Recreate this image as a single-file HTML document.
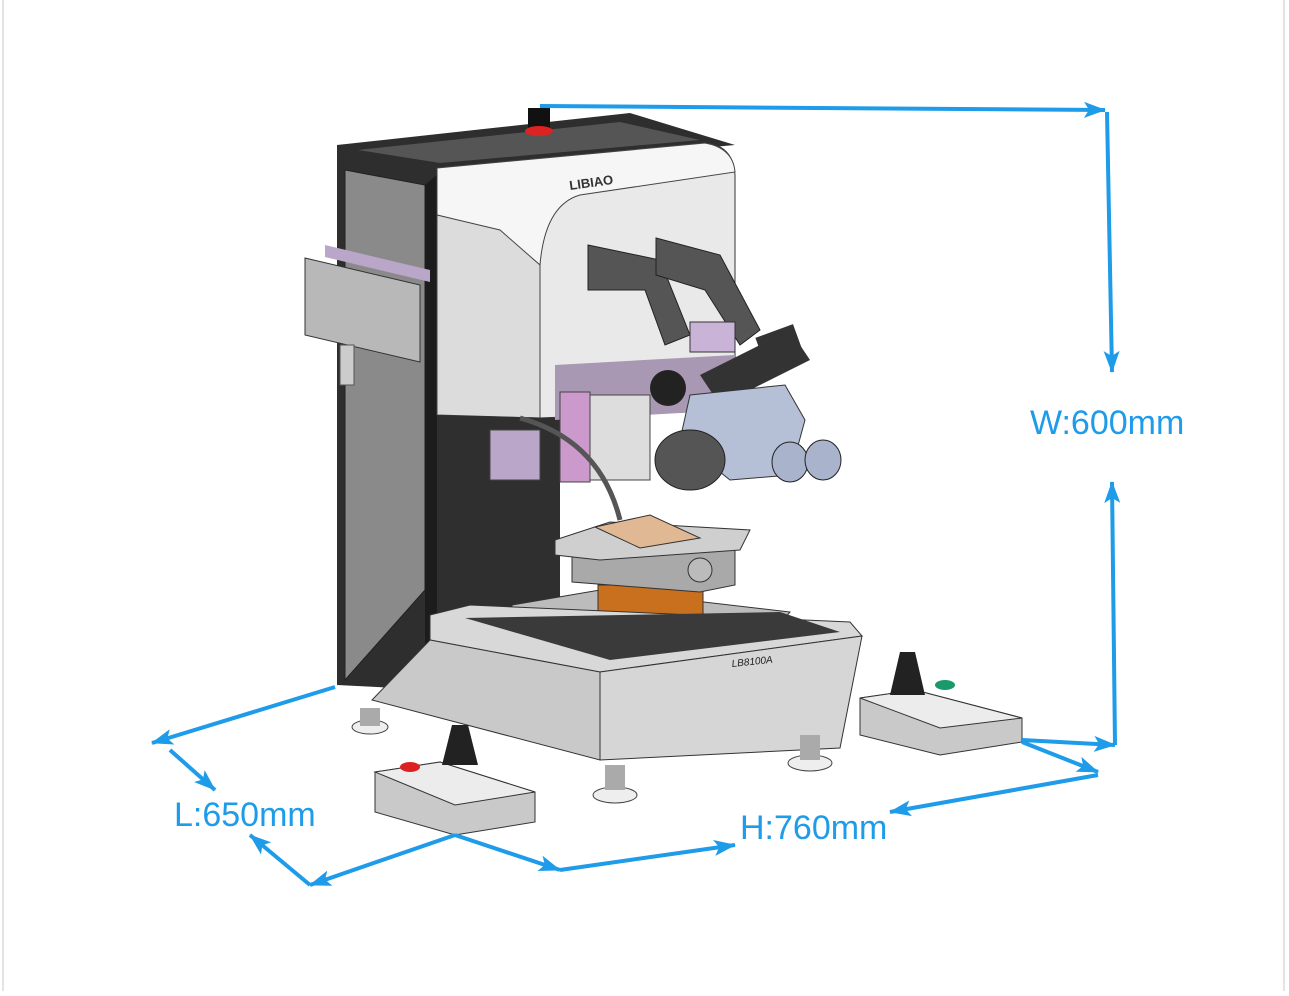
<!DOCTYPE html>
<html><head><meta charset="utf-8"><style>
body{margin:0;background:#fff;width:1289px;height:991px;overflow:hidden;font-family:"Liberation Sans",sans-serif}
</style></head><body>
<svg width="1289" height="991" viewBox="0 0 1289 991" xmlns="http://www.w3.org/2000/svg">
<defs>
<marker id="b" markerWidth="22" markerHeight="16" refX="21" refY="8" orient="auto" markerUnits="userSpaceOnUse"><path d="M0,0 L22,8 L0,16 L5,8 z" fill="#1e9be9"/></marker>
</defs>
<rect x="0" y="0" width="1289" height="991" fill="#fff"/>
<line x1="3" y1="0" x2="3" y2="991" stroke="#e4e4e4" stroke-width="2"/>
<line x1="1284" y1="0" x2="1284" y2="991" stroke="#e4e4e4" stroke-width="2"/>

<polygon points="337,145 630,113 735,145 437,172 437,690 337,685" fill="#2e2e2e"/>
<polygon points="358,150 620,122 700,140 440,163" fill="#555"/>
<polygon points="345,170 425,185 425,590 345,680" fill="#8a8a8a" stroke="#222"/>
<polygon points="425,185 437,175 437,690 425,690" fill="#1c1c1c"/>
<path d="M437,168 L705,143 Q733,145 735,175 L735,410 L540,418 L540,265 Q470,230 437,215 Z" fill="#e9e9e9" stroke="#333"/>
<path d="M437,168 L705,143 Q733,148 735,172 L580,195 Q545,205 540,265 Q500,230 437,215 Z" fill="#f6f6f6" stroke="#444"/>
<polygon points="437,215 500,230 540,265 540,418 437,415" fill="#dcdcdc" stroke="#444"/>
<polygon points="437,415 560,418 560,620 437,690" fill="#2f2f2f"/>
<text x="570" y="190" font-size="13" fill="#333" font-weight="bold" transform="rotate(-8 570 190)">LIBIAO</text>
<polygon points="305,258 420,285 420,362 305,335" fill="#b8b8b8" stroke="#333"/>
<polygon points="325,245 430,270 430,282 325,257" fill="#b9a6c8"/>
<rect x="340" y="345" width="14" height="40" fill="#ccc" stroke="#555"/>
<polygon points="555,365 735,355 735,410 555,420" fill="#a898b4"/>
<rect x="560" y="392" width="30" height="90" fill="#cc99cc" stroke="#444"/>
<rect x="590" y="395" width="60" height="85" fill="#ddd" stroke="#444"/>
<rect x="490" y="430" width="50" height="50" fill="#b9a6c8" stroke="#444"/>
<polygon points="588,245 660,260 690,335 665,345 645,290 588,290" fill="#555" stroke="#222"/>
<polygon points="656,238 720,255 760,330 740,345 705,290 656,275" fill="#555" stroke="#222"/>
<rect x="690" y="322" width="45" height="30" fill="#c9b3d6" stroke="#333"/>
<polygon points="700,375 790,330 810,360 720,405" fill="#333"/>
<circle cx="668" cy="388" r="18" fill="#222"/>
<polygon points="690,395 785,385 805,420 790,475 730,480 680,440" fill="#b5bfd6" stroke="#333"/>
<ellipse cx="690" cy="460" rx="35" ry="30" fill="#555" stroke="#222"/>
<ellipse cx="790" cy="462" rx="18" ry="20" fill="#a9b4cc" stroke="#222"/>
<ellipse cx="823" cy="460" rx="18" ry="20" fill="#a9b4cc" stroke="#222"/>
<rect x="760" y="330" width="40" height="35" fill="#333" transform="rotate(-20 780 347)"/>
<path d="M520,418 Q600,440 620,520" stroke="#555" stroke-width="5" fill="none"/>
<polygon points="512,605 600,590 790,612 760,648 640,648 512,620" fill="#bcbcbc" stroke="#333"/>
<rect x="598" y="585" width="105" height="35" fill="#c8701e" stroke="#333"/>
<polygon points="572,545 735,545 735,585 700,592 572,582" fill="#a9a9a9" stroke="#333"/>
<polygon points="555,540 610,522 750,530 740,550 600,560 555,555" fill="#cfcfcf" stroke="#333"/>
<polygon points="595,527 650,515 700,538 640,548" fill="#e0b894" stroke="#333"/>
<circle cx="700" cy="570" r="12" fill="#bbb" stroke="#333"/>
<polygon points="430,615 470,605 850,622 862,636 600,672 430,640" fill="#d8d8d8" stroke="#333"/>
<polygon points="465,618 780,612 840,632 610,660" fill="#3a3a3a"/>
<polygon points="430,640 600,672 600,760 372,700" fill="#c9c9c9" stroke="#333"/>
<polygon points="600,672 862,636 840,748 600,760" fill="#d6d6d6" stroke="#333"/>
<text x="732" y="667" font-size="10" font-style="italic" fill="#222" transform="rotate(-6 732 667)">LB8100A</text>
<ellipse cx="370" cy="727" rx="18" ry="7" fill="#eee" stroke="#444"/>
<rect x="360" y="708" width="20" height="18" fill="#aaa"/>
<ellipse cx="615" cy="795" rx="22" ry="8" fill="#eee" stroke="#444"/>
<rect x="605" y="765" width="20" height="25" fill="#aaa"/>
<ellipse cx="810" cy="763" rx="22" ry="8" fill="#eee" stroke="#444"/>
<rect x="800" y="735" width="20" height="25" fill="#aaa"/>
<polygon points="375,772 440,762 535,792 535,822 455,835 375,812" fill="#c9c9c9" stroke="#333"/>
<polygon points="375,772 440,762 535,792 455,805" fill="#ececec" stroke="#333"/>
<ellipse cx="410" cy="767" rx="10" ry="5" fill="#d22"/>
<path d="M452,725 L468,725 L478,765 L442,765 Z" fill="#222"/>
<polygon points="860,698 915,690 1022,718 1022,742 940,755 860,735" fill="#c9c9c9" stroke="#333"/>
<polygon points="860,698 915,690 1022,718 940,728" fill="#ececec" stroke="#333"/>
<ellipse cx="945" cy="685" rx="10" ry="5" fill="#1a9a6a"/>
<path d="M900,652 L915,652 L925,695 L890,695 Z" fill="#222"/>
<rect x="528" y="108" width="22" height="22" fill="#111"/>
<ellipse cx="539" cy="131" rx="14" ry="5" fill="#d22"/>

<g stroke="#1e9be9" stroke-width="4" fill="none">
<line x1="540" y1="106" x2="1105" y2="110" marker-end="url(#b)"/>
<line x1="1107" y1="112" x2="1112" y2="372" marker-end="url(#b)"/>
<line x1="1115" y1="745" x2="1112" y2="482" marker-end="url(#b)"/>
<line x1="1022" y1="740" x2="1115" y2="745" marker-end="url(#b)"/>
<line x1="1022" y1="742" x2="1098" y2="772" marker-end="url(#b)"/>
<line x1="1098" y1="775" x2="890" y2="812" marker-end="url(#b)"/>
<line x1="455" y1="835" x2="560" y2="870" marker-end="url(#b)"/>
<line x1="560" y1="870" x2="735" y2="845" marker-end="url(#b)"/>
<line x1="455" y1="835" x2="310" y2="885" marker-end="url(#b)"/>
<line x1="310" y1="885" x2="250" y2="835" marker-end="url(#b)"/>
<line x1="335" y1="687" x2="152" y2="743" marker-end="url(#b)"/>
<line x1="170" y1="750" x2="215" y2="790" marker-end="url(#b)"/>
</g>
<g font-size="34" fill="#1e9be9" font-family="Liberation Sans, sans-serif">
<text x="1030" y="434">W:600mm</text>
<text x="174" y="826">L:650mm</text>
<text x="740" y="839">H:760mm</text>
</g>
</svg>
</body></html>
